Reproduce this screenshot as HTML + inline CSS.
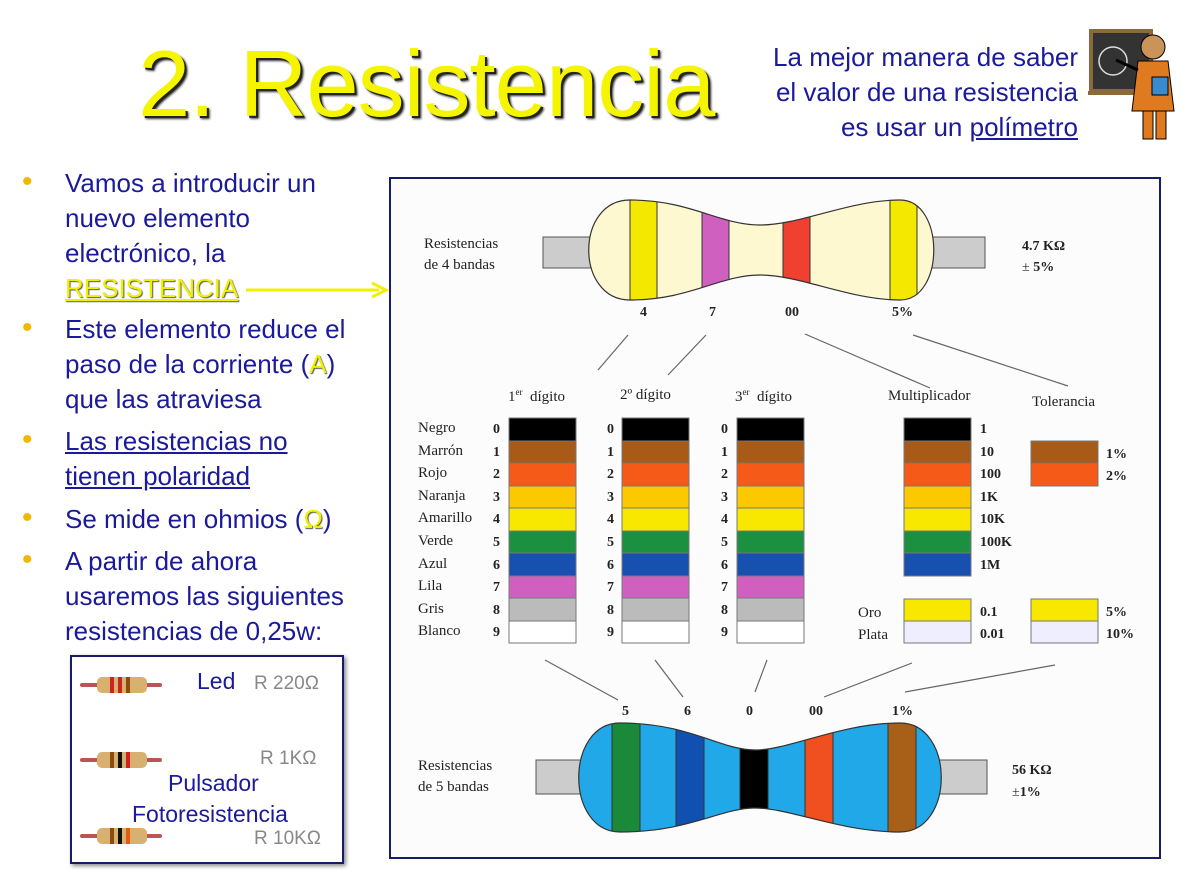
<!DOCTYPE html>
<html><head><meta charset="utf-8"><style>
body{margin:0;width:1200px;height:888px;background:#fff;position:relative;overflow:hidden;font-family:"Liberation Sans",sans-serif}
.a{position:absolute;white-space:nowrap}
.t{font-family:"Liberation Serif",serif;font-size:15px;color:#222}
.b{font-family:"Liberation Serif",serif;font-size:14px;font-weight:bold;color:#222}
.bl{color:#1a1a9a;font-size:26px;line-height:35px}
.dot{color:#f0b800;font-size:30px}
</style></head><body>
<div class="a" style="left:138px;top:30px;font-size:94px;color:#f5f500;text-shadow:2px 2px 0 #222,3px 3px 2px #333;letter-spacing:-1px">2. Resistencia</div>
<div class="a" style="right:122px;top:40px;text-align:right;color:#1a1a9a;font-size:26px;line-height:35px">La mejor manera de saber<br>el valor de una resistencia<br>es usar un <u>polímetro</u></div>
<svg class="a" style="left:1088px;top:25px" width="95" height="118">
<rect x="3" y="6" width="60" height="60" fill="#333" stroke="#8a6a3a" stroke-width="4"/>
<circle cx="25" cy="36" r="14" fill="none" stroke="#ddd" stroke-width="1.5"/>
<rect x="-2" y="66" width="60" height="4" fill="#8a6a3a"/>
<circle cx="65" cy="22" r="12" fill="#c9935a" stroke="#000"/>
<path d="M50 36h30l6 50h-42z" fill="#e07a20" stroke="#000"/>
<rect x="55" y="86" width="10" height="28" fill="#e07a20" stroke="#000"/><rect x="68" y="86" width="10" height="28" fill="#e07a20" stroke="#000"/>
<rect x="64" y="52" width="16" height="18" fill="#3a8ad0" stroke="#000"/>
<line x1="50" y1="45" x2="28" y2="35" stroke="#000" stroke-width="3"/>
</svg>
<div class="a bl" style="left:22px;top:166px">
<div style="position:relative;padding-left:43px"><span class="dot a" style="left:0;top:-2px">•</span>Vamos a introducir un<br>nuevo elemento<br>electrónico, la<br><u style="color:#f0f000;text-shadow:1px 1px 1px #555">RESISTENCIA</u></div>
<div style="position:relative;padding-left:43px;margin-top:6px"><span class="dot a" style="left:0;top:-2px">•</span>Este elemento reduce el<br>paso de la corriente (<span style="color:#f0f000;text-shadow:1px 1px 1px #555">A</span>)<br>que las atraviesa</div>
<div style="position:relative;padding-left:43px;margin-top:7px"><span class="dot a" style="left:0;top:-2px">•</span><u>Las resistencias no<br>tienen polaridad</u></div>
<div style="position:relative;padding-left:43px;margin-top:8px"><span class="dot a" style="left:0;top:-2px">•</span>Se mide en ohmios (<span style="color:#f0f000;text-shadow:1px 1px 1px #555">Ω</span>)</div>
<div style="position:relative;padding-left:43px;margin-top:7px"><span class="dot a" style="left:0;top:-2px">•</span>A partir de ahora<br>usaremos las siguientes<br>resistencias de 0,25w:</div>
</div>
<svg class="a" style="left:244px;top:280px" width="146" height="20"><line x1="2" y1="10" x2="135" y2="10" stroke="#f0f000" stroke-width="3"/><path d="M128 3l14 7-14 7" fill="none" stroke="#f0f000" stroke-width="3"/></svg>
<div class="a" style="left:70px;top:655px;width:270px;height:205px;border:2px solid #1a1a6a;box-shadow:2px 2px 4px #888"></div>
<svg class="a" style="left:80px;top:670px" width="90" height="180">
<line x1="2" y1="15" x2="80" y2="15" stroke="#b55" stroke-width="4" stroke-linecap="round"/><rect x="17" y="7" width="50" height="16" rx="5" fill="#d8b070"/>
<rect x="30" y="7" width="4" height="16" fill="#c22"/><rect x="38" y="7" width="4" height="16" fill="#c22"/><rect x="46" y="7" width="4" height="16" fill="#8a4a10"/>
<g transform="translate(0,75)"><line x1="2" y1="15" x2="80" y2="15" stroke="#b55" stroke-width="4" stroke-linecap="round"/><rect x="17" y="7" width="50" height="16" rx="5" fill="#d8b070"/><rect x="30" y="7" width="4" height="16" fill="#8a4a10"/><rect x="38" y="7" width="4" height="16" fill="#111"/><rect x="46" y="7" width="4" height="16" fill="#c22"/></g>
<g transform="translate(0,151)"><line x1="2" y1="15" x2="80" y2="15" stroke="#b55" stroke-width="4" stroke-linecap="round"/><rect x="17" y="7" width="50" height="16" rx="5" fill="#d8b070"/><rect x="30" y="7" width="4" height="16" fill="#8a4a10"/><rect x="38" y="7" width="4" height="16" fill="#111"/><rect x="46" y="7" width="4" height="16" fill="#e55a10"/></g>
</svg>
<div class="a" style="left:197px;top:668px;font-size:23px;color:#1a1a9a">Led</div>
<div class="a" style="left:254px;top:673px;font-size:19px;color:#888">R 220Ω</div>
<div class="a" style="left:260px;top:748px;font-size:19px;color:#888">R 1KΩ</div>
<div class="a" style="left:168px;top:770px;font-size:23px;color:#1a1a9a">Pulsador</div>
<div class="a" style="left:132px;top:801px;font-size:23px;color:#1a1a9a">Fotoresistencia</div>
<div class="a" style="left:254px;top:828px;font-size:19px;color:#888">R 10KΩ</div>

<div class="a" style="left:389px;top:177px;width:768px;height:678px;border:2px solid #1a1a6a;background:#fcfcfc"></div>
<svg class="a" style="left:0;top:0" width="1200" height="888">
<defs><clipPath id="c4"><path id="p4" d="M630 200 C690 200 720 225 760 225 C800 225 850 200 900 200 C945 200 945 300 900 300 C850 300 800 275 760 275 C720 275 690 300 630 300 C575 300 575 200 630 200Z"/></clipPath>
<clipPath id="c5"><path id="p5" d="M620 723 C690 723 720 750 755 750 C790 750 840 723 900 723 C955 723 955 832 900 832 C840 832 790 808 755 808 C720 808 690 832 620 832 C565 832 565 723 620 723Z"/></clipPath>
<g id="col" stroke="#777" stroke-width="1"><rect x="0" y="418" width="67" height="23" fill="#000"/><rect x="0" y="441" width="67" height="22" fill="#a85a18"/><rect x="0" y="463" width="67" height="23" fill="#f55a18"/><rect x="0" y="486" width="67" height="22" fill="#fcc800"/><rect x="0" y="508" width="67" height="23" fill="#f8e800"/><rect x="0" y="531" width="67" height="22" fill="#1a9040"/><rect x="0" y="553" width="67" height="23" fill="#1850b0"/><rect x="0" y="576" width="67" height="22" fill="#d060c0"/><rect x="0" y="598" width="67" height="23" fill="#bbb"/><rect x="0" y="621" width="67" height="22" fill="#fff"/></g>
</defs>
<g stroke="#555" stroke-width="1" fill="#ccc"><rect x="543" y="237" width="50" height="31"/><rect x="930" y="237" width="55" height="31"/>
<rect x="536" y="760" width="55" height="34"/><rect x="935" y="760" width="52" height="34"/></g>
<use href="#p4" fill="#fdf8d0"/>
<g clip-path="url(#c4)" stroke="#333"><rect x="630" y="190" width="27" height="120" fill="#f5e800"/><rect x="702" y="190" width="27" height="120" fill="#d060c0"/><rect x="783" y="190" width="27" height="120" fill="#f04030"/><rect x="890" y="190" width="27" height="120" fill="#f5e800"/></g>
<use href="#p4" fill="none" stroke="#333" stroke-width="1.2"/>
<use href="#p5" fill="#20a8e8"/>
<g clip-path="url(#c5)" stroke="#333"><rect x="612" y="715" width="28" height="125" fill="#1a8a3a"/><rect x="676" y="715" width="28" height="125" fill="#1050b0"/><rect x="740" y="715" width="28" height="125" fill="#000"/><rect x="805" y="715" width="28" height="125" fill="#f05020"/><rect x="888" y="715" width="28" height="125" fill="#a86018"/></g>
<use href="#p5" fill="none" stroke="#333" stroke-width="1.2"/>
<g stroke="#666" stroke-width="1.2"><line x1="628" y1="335" x2="598" y2="370"/><line x1="706" y1="335" x2="668" y2="375"/><line x1="805" y1="334" x2="930" y2="388"/><line x1="913" y1="335" x2="1068" y2="386"/>
<line x1="545" y1="660" x2="618" y2="700"/><line x1="655" y1="660" x2="683" y2="697"/><line x1="767" y1="660" x2="755" y2="692"/><line x1="912" y1="663" x2="824" y2="697"/><line x1="1055" y1="665" x2="905" y2="692"/></g>
<use href="#col" x="509"/><use href="#col" x="622"/><use href="#col" x="737"/>
<g stroke="#777"><rect x="904" y="418" width="67" height="23" fill="#000"/><rect x="904" y="441" width="67" height="22" fill="#a85a18"/><rect x="904" y="463" width="67" height="23" fill="#f55a18"/><rect x="904" y="486" width="67" height="22" fill="#fcc800"/><rect x="904" y="508" width="67" height="23" fill="#f8e800"/><rect x="904" y="531" width="67" height="22" fill="#1a9040"/><rect x="904" y="553" width="67" height="23" fill="#1850b0"/>
<rect x="904" y="599" width="67" height="22" fill="#f8e800"/><rect x="904" y="621" width="67" height="22" fill="#eef"/>
<rect x="1031" y="441" width="67" height="22" fill="#a85a18"/><rect x="1031" y="463" width="67" height="23" fill="#f55a18"/><rect x="1031" y="599" width="67" height="22" fill="#f8e800"/><rect x="1031" y="621" width="67" height="22" fill="#eef"/></g>
</svg>
<div class="a t" style="left:424px;top:234px;line-height:21px">Resistencias<br>de 4 bandas</div>
<div class="a b" style="left:1022px;top:236px;line-height:21px">4.7 KΩ<br><span style="font-weight:normal">±</span> 5%</div>
<div class="a b" style="left:640px;top:305px">4</div><div class="a b" style="left:709px;top:305px">7</div><div class="a b" style="left:785px;top:305px">00</div><div class="a b" style="left:892px;top:305px">5%</div>
<div class="a t" style="left:508px;top:387px">1<sup style="font-size:9px">er</sup>&nbsp;&nbsp;dígito</div>
<div class="a t" style="left:620px;top:387px">2º dígito</div>
<div class="a t" style="left:735px;top:387px">3<sup style="font-size:9px">er</sup>&nbsp;&nbsp;dígito</div>
<div class="a t" style="left:888px;top:388px">Multiplicador</div>
<div class="a t" style="left:1032px;top:394px">Tolerancia</div>
<div class="a t" style="left:418px;top:417px;line-height:22.6px">Negro<br>Marrón<br>Rojo<br>Naranja<br>Amarillo<br>Verde<br>Azul<br>Lila<br>Gris<br>Blanco</div>
<div class="a b" style="left:493px;top:419px;line-height:22.6px">0<br>1<br>2<br>3<br>4<br>5<br>6<br>7<br>8<br>9</div>
<div class="a b" style="left:607px;top:419px;line-height:22.6px">0<br>1<br>2<br>3<br>4<br>5<br>6<br>7<br>8<br>9</div>
<div class="a b" style="left:721px;top:419px;line-height:22.6px">0<br>1<br>2<br>3<br>4<br>5<br>6<br>7<br>8<br>9</div>
<div class="a b" style="left:980px;top:419px;line-height:22.6px">1<br>10<br>100<br>1K<br>10K<br>100K<br>1M</div>
<div class="a t" style="left:858px;top:602px;line-height:22px">Oro<br>Plata</div>
<div class="a b" style="left:980px;top:602px;line-height:22px">0.1<br>0.01</div>
<div class="a b" style="left:1106px;top:444px;line-height:22px">1%<br>2%</div>
<div class="a b" style="left:1106px;top:602px;line-height:22px">5%<br>10%</div>
<div class="a b" style="left:622px;top:704px">5</div><div class="a b" style="left:684px;top:704px">6</div><div class="a b" style="left:746px;top:704px">0</div><div class="a b" style="left:809px;top:704px">00</div><div class="a b" style="left:892px;top:704px">1%</div>
<div class="a t" style="left:418px;top:756px;line-height:21px">Resistencias<br>de 5 bandas</div>
<div class="a b" style="left:1012px;top:760px;line-height:22px">56 KΩ<br><span style="font-weight:normal">±</span>1%</div>
</body></html>
